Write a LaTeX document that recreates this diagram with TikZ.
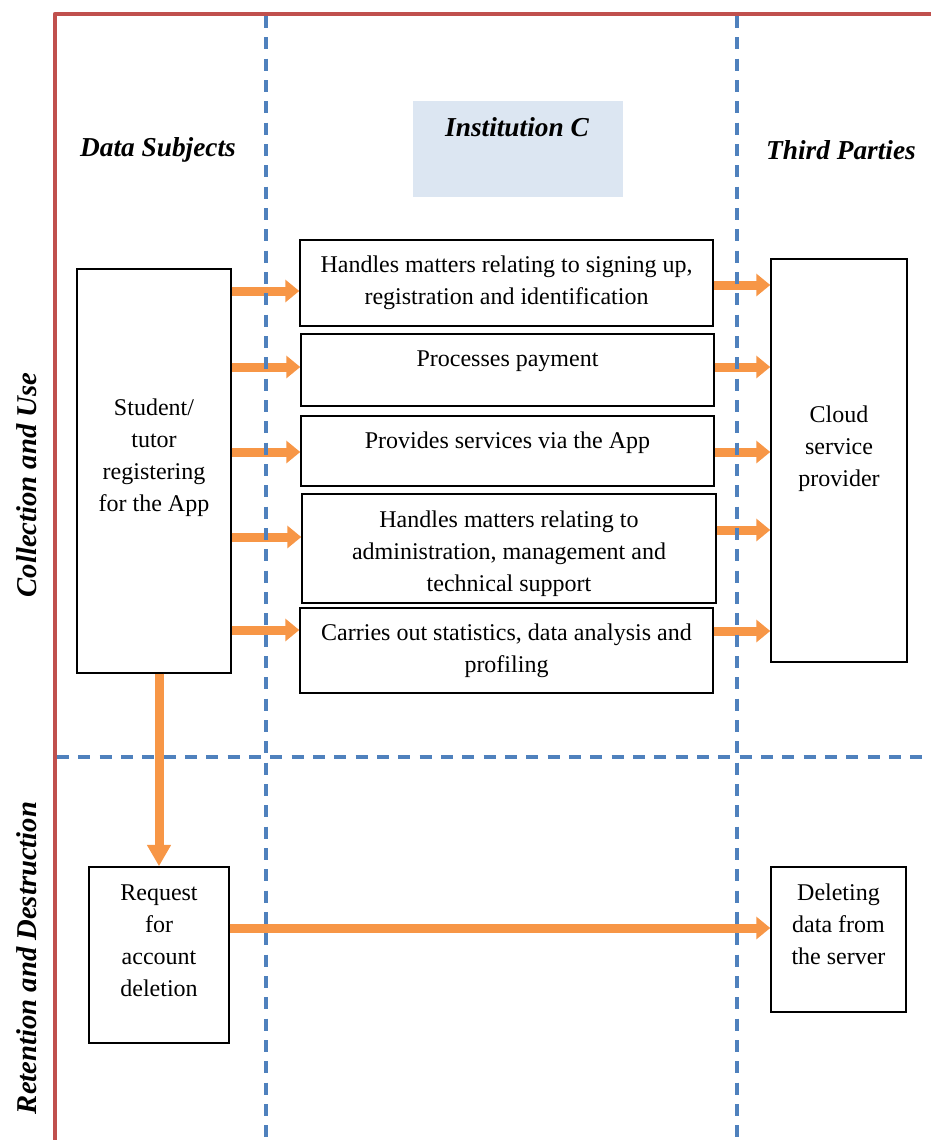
\documentclass[tikz,border=0pt]{standalone}
\usepackage{fontspec}
\setmainfont{Liberation Serif}
\usetikzlibrary{arrows.meta}
\definecolor{FlowOrange}{HTML}{F79646}
\definecolor{LaneBlue}{HTML}{4F81BD}
\definecolor{FrameRed}{HTML}{C0504D}
\definecolor{InstFill}{HTML}{DCE6F2}
\newdimen\px \px=0.75pt

\begin{document}
\begin{tikzpicture}[
          x=0.75pt,y=-0.75pt,
          font=\fontsize{18}{24}\selectfont,
          box/.style={draw=black,line width=1.1pt,align=center,inner sep=2pt},
          lift/.style={text depth=#1},
          flow/.style={-{Triangle[length=10.5pt,width=16.5pt]},line width=6.75pt,draw=FlowOrange},
          dropflow/.style={flow,-{Triangle[length=16pt,width=17pt]}},
          lane/.style={draw=LaneBlue,line width=2.7pt,dash pattern=on 9pt off 7pt},
          frame/.style={draw=FrameRed,line width=3.6pt,line join=round},
          head/.style={font=\fontsize{20.5}{24}\selectfont\bfseries\itshape},
          phase/.style={font=\fontsize{21.5}{24}\selectfont\bfseries\itshape,rotate=90}
        ]
        \useasboundingbox (0,0) rectangle (931,1140);

        % headings
        \node[fill=InstFill,minimum width=210\px,minimum height=96\px] (inst) at (518,149) {};
        \node[head] (insttext) at (517,127) {Institution C};
        \node[head] (subj) at (158,150) {Data Subjects};
        \node[head] (third) at (841,150) {Third Parties};
        \node[phase] (collect) at (27,485) {Collection and Use};
        \node[phase] (retain) at (27,958) {Retention and Destruction};

        % boxes
        \node[box,lift=23.4pt,minimum width=154\px,minimum height=404\px] (stud) at (154,471)
          {Student/\\tutor\\registering\\for the App};
        \node[box,minimum width=413\px,minimum height=86\px] (b1) at (506.5,283)
          {Handles matters relating to signing up,\\registration and identification};
        \node[box,lift=17.4pt,minimum width=413\px,minimum height=72\px] (b2) at (507.5,370) {Processes payment};
        \node[box,lift=15.9pt,minimum width=413\px,minimum height=70\px] (b3) at (507.5,451) {Provides services via the App};
        \node[box,text height=67.8pt,minimum width=414\px,minimum height=109\px] (b4) at (509,548.5)
          {Handles matters relating to\\administration, management and\\technical support};
        \node[box,minimum width=413\px,minimum height=85\px] (b5) at (506.5,650.5)
          {Carries out statistics, data analysis and\\profiling};
        \node[box,lift=21.9pt,minimum width=136\px,minimum height=403\px] (cloud) at (839,460.5)
          {Cloud\\service\\provider};
        \node[box,lift=21pt,minimum width=140\px,minimum height=176\px] (req) at (159,955)
          {Request\\for\\account\\deletion};
        \node[box,lift=22.5pt,minimum width=135\px,minimum height=145\px] (del) at (838.5,939.5)
          {Deleting\\data from\\the server};

        % flows
        \draw[flow] (stud.east |- 0,291) -- (b1.west |- 0,291);
        \draw[flow] (stud.east |- 0,367) -- (b2.west |- 0,367);
        \draw[flow] (stud.east |- 0,452) -- (b3.west |- 0,452);
        \draw[flow] (stud.east |- 0,537) -- (b4.west |- 0,537);
        \draw[flow] (stud.east |- 0,630) -- (b5.west |- 0,630);
        \draw[flow] (b1.east |- 0,285) -- (cloud.west |- 0,285);
        \draw[flow] (b2.east |- 0,367) -- (cloud.west |- 0,367);
        \draw[flow] (b3.east |- 0,452) -- (cloud.west |- 0,452);
        \draw[flow] (b4.east |- 0,530) -- (cloud.west |- 0,530);
        \draw[flow] (b5.east |- 0,631) -- (cloud.west |- 0,631);
        \draw[dropflow] (req.north |- stud.south) -- (req.north);
        \draw[flow] (req.east |- 0,928) -- (del.west |- 0,928);

        % lanes and frame
        \draw[lane] (266,16) -- (266,1140);
        \draw[lane] (737,16) -- (737,1140);
        \draw[lane] (57,757) -- (931,757);
        \draw[frame] (55,1140) -- (55,14) -- (931,14);

      \end{tikzpicture}
\end{document}
